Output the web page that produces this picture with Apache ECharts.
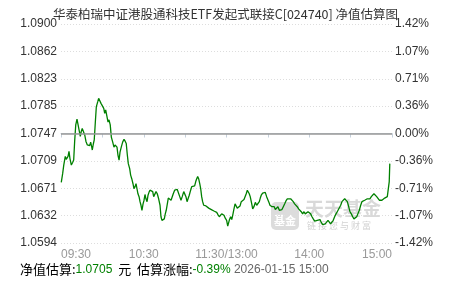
<!DOCTYPE html>
<html>
<head>
<meta charset="utf-8">
<script src="https://cdn.jsdelivr.net/npm/echarts@6/dist/echarts.min.js"></script>
<style>
html,body{margin:0;padding:0;background:#fff;}
#c{width:451px;height:281px;}
</style>
</head>
<body>
<div id="c"></div>
<script>
var titleText = '华泰柏瑞中证港股通科技ETF发起式联接C[024740] 净值估算图';
var baseNav = 1.0747;
var leftTicks = ['1.0594','1.0632','1.0671','1.0709','1.0747','1.0785','1.0823','1.0862','1.0900'];
var rightTicks = ['-1.42%','-1.07%','-0.71%','-0.36%','0.00%','0.36%','0.71%','1.07%','1.42%'];
var xTickLabels = ['09:30','','10:30','','11:30/13:00','','14:00','','15:00'];
var estNav = '1.0705';
var estPct = '-0.39%';
var estTime = '2026-01-15 15:00';

// minutes since 09:30 (trading minutes) and estimated NAV
var minutes = [0.2,1.2,2.0,3.1,3.8,5.1,5.8,6.5,7.5,8.5,9.2,9.9,10.7,11.6,12.5,13.3,14.0,14.7,15.4,16.5,17.2,18.1,19.1,19.8,20.8,21.5,22.3,22.7,23.4,24.1,24.9,25.6,26.6,27.3,28.3,29.0,29.9,31.0,31.7,32.4,33.4,34.1,34.8,35.7,36.5,37.5,38.4,39.2,40.1,40.6,41.3,42.1,42.8,43.7,44.7,45.7,46.6,47.3,48.1,48.8,49.8,50.5,51.3,52.2,52.9,53.7,54.4,55.1,55.8,56.6,57.3,58.0,58.7,59.5,60.2,60.9,61.6,62.4,63.1,63.8,64.5,65.5,66.5,67.2,67.9,68.9,69.8,70.8,71.8,72.5,73.2,74.2,74.9,75.6,76.3,77.1,77.8,78.8,79.8,80.3,81.4,82.4,83.4,84.3,85.3,86.1,87.0,87.9,89.0,89.9,90.6,91.4,92.3,93.0,94.0,94.8,95.9,96.9,97.7,98.4,99.1,99.8,100.6,101.3,102.0,102.7,103.5,104.2,105.1,106.1,107.1,108.0,109.0,110.0,110.9,111.9,112.9,113.8,114.8,115.5,116.5,117.2,118.2,119.1,120.1,120.9,121.3,122.0,123.0,123.8,124.5,125.2,126.2,126.9,127.8,128.8,129.8,130.7,131.7,132.7,133.6,134.3,135.1,135.8,136.5,137.2,138.3,139.0,139.9,140.9,141.9,142.8,143.8,144.5,145.2,146.2,147.2,148.1,149.1,150.1,150.8,151.5,152.3,153.0,153.7,154.6,155.4,156.4,157.3,158.3,159.3,160.2,161.2,162.2,163.1,164.1,165.5,166.5,167.5,168.4,169.4,170.4,171.3,172.3,173.3,174.2,175.2,176.2,177.1,178.1,179.1,180.0,181.0,182.0,182.9,183.9,184.9,185.8,186.8,187.8,188.7,189.7,190.7,191.6,192.6,193.6,194.5,195.5,196.5,197.4,198.4,199.4,200.3,201.3,202.8,203.7,204.7,205.7,206.6,207.6,208.6,209.5,210.5,211.5,212.4,213.4,214.4,215.3,216.3,217.3,218.2,219.2,220.2,221.1,222.1,223.1,224.0,225.0,226.0,226.9,227.9,228.9,229.8,230.8,231.8,232.7,233.7,234.7,235.6,236.6,237.6,238.0,238.4];
var navs = [1.0679,1.0691,1.0703,1.0715,1.0711,1.0715,1.0722,1.0712,1.0703,1.0707,1.0710,1.0736,1.0759,1.0767,1.0766,1.0750,1.0743,1.0750,1.0754,1.0752,1.0745,1.0736,1.0731,1.0733,1.0730,1.0735,1.0728,1.0724,1.0732,1.0738,1.0763,1.0784,1.0791,1.0796,1.0797,1.0789,1.0787,1.0782,1.0775,1.0780,1.0781,1.0763,1.0766,1.0759,1.0742,1.0735,1.0728,1.0731,1.0733,1.0728,1.0717,1.0710,1.0721,1.0728,1.0735,1.0739,1.0736,1.0733,1.0717,1.0705,1.0698,1.0689,1.0684,1.0677,1.0670,1.0673,1.0677,1.0670,1.0663,1.0659,1.0652,1.0647,1.0640,1.0649,1.0654,1.0662,1.0656,1.0652,1.0661,1.0665,1.0668,1.0668,1.0666,1.0659,1.0661,1.0666,1.0663,1.0656,1.0647,1.0631,1.0626,1.0625,1.0628,1.0635,1.0640,1.0649,1.0657,1.0655,1.0654,1.0656,1.0663,1.0668,1.0670,1.0669,1.0668,1.0659,1.0654,1.0659,1.0666,1.0666,1.0659,1.0652,1.0657,1.0661,1.0668,1.0673,1.0673,1.0674,1.0680,1.0684,1.0687,1.0684,1.0677,1.0670,1.0659,1.0652,1.0647,1.0645,1.0646,1.0645,1.0643,1.0644,1.0641,1.0642,1.0639,1.0638,1.0637,1.0634,1.0631,1.0633,1.0635,1.0634,1.0633,1.0629,1.0626,1.0618,1.0619,1.0626,1.0631,1.0627,1.0633,1.0640,1.0649,1.0647,1.0643,1.0645,1.0646,1.0652,1.0654,1.0655,1.0657,1.0663,1.0668,1.0666,1.0663,1.0659,1.0649,1.0642,1.0645,1.0651,1.0647,1.0649,1.0652,1.0657,1.0661,1.0664,1.0663,1.0665,1.0659,1.0657,1.0651,1.0647,1.0648,1.0645,1.0647,1.0645,1.0641,1.0640,1.0645,1.0640,1.0639,1.0641,1.0645,1.0649,1.0653,1.0656,1.0656,1.0656,1.0654,1.0652,1.0649,1.0647,1.0645,1.0642,1.0640,1.0638,1.0635,1.0638,1.0635,1.0633,1.0638,1.0640,1.0635,1.0631,1.0628,1.0625,1.0624,1.0626,1.0624,1.0627,1.0623,1.0620,1.0619,1.0621,1.0623,1.0626,1.0625,1.0621,1.0620,1.0626,1.0631,1.0635,1.0638,1.0640,1.0647,1.0652,1.0654,1.0656,1.0657,1.0652,1.0645,1.0638,1.0635,1.0631,1.0628,1.0626,1.0631,1.0633,1.0640,1.0647,1.0652,1.0652,1.0654,1.0654,1.0656,1.0655,1.0656,1.0659,1.0661,1.0663,1.0662,1.0659,1.0657,1.0654,1.0652,1.0654,1.0655,1.0657,1.0659,1.0659,1.0661,1.0680,1.0705];

var RED = '#ff0000', GREEN = '#008000', DARK = '#333333';
var PCT_MAX = 1.42, PCT_STEP = 0.355;
function tickIndex(v){ return Math.round((v + PCT_MAX) / PCT_STEP); }
function tickColor(v){ var i = tickIndex(v); return i > 4 ? RED : (i < 4 ? GREEN : DARK); }

var seriesData = minutes.map(function(m, i){ return [m, (navs[i] / baseNav - 1) * 100]; });

var FONT = '"Liberation Sans", Arial, "Noto Sans CJK SC", sans-serif';
var CJK = '"Noto Sans CJK SC", sans-serif';

var chart = echarts.init(document.getElementById('c'), null, {renderer: 'canvas'});
chart.setOption({
  animation: false,
  backgroundColor: '#ffffff',
  title: {
    text: titleText, left: 'center', top: 3,
    textStyle: {fontSize: 12.5, fontWeight: 'normal', color: '#333', fontFamily: CJK}
  },
  grid: {left: 61, right: 59, top: 24, bottom: 38, containLabel: false},
  xAxis: {
    type: 'value', min: 0, max: 240, interval: 30,
    axisLine: {show: true, lineStyle: {color: '#c6d1dc', width: 1}},
    axisTick: {show: true, length: 4, lineStyle: {color: '#c6d1dc'}},
    splitLine: {show: false},
    axisLabel: {
      color: '#999', fontSize: 12, margin: 6, fontFamily: FONT,
      alignMinLabel: 'left', alignMaxLabel: 'right',
      formatter: function(v){ return xTickLabels[Math.round(v / 30)] || ''; }
    }
  },
  yAxis: [{
    type: 'value', min: -PCT_MAX, max: PCT_MAX, interval: PCT_STEP, position: 'left',
    axisLine: {show: false}, axisTick: {show: false},
    splitLine: {show: true, lineStyle: {color: '#dddddd', type: [1, 2], width: 1}},
    axisLabel: {
      fontSize: 12, margin: 4, fontFamily: FONT,
      color: function(v){ return tickColor(v); },
      formatter: function(v){ return leftTicks[tickIndex(v)]; }
    }
  }, {
    type: 'value', min: -PCT_MAX, max: PCT_MAX, interval: PCT_STEP, position: 'right',
    axisLine: {show: false}, axisTick: {show: false}, splitLine: {show: false},
    axisLabel: {
      fontSize: 12, margin: 3, fontFamily: FONT,
      color: function(v){ return tickColor(v); },
      formatter: function(v){ return rightTicks[tickIndex(v)]; }
    }
  }],
  graphic: [
    {type: 'rect', left: 271, top: 202, z: 0, shape: {width: 28, height: 28, r: 5}, style: {fill: '#dcdcdc'}},
    {type: 'text', left: 274, top: 215, z: 0, style: {text: '基金', fill: '#ffffff', font: 'bold 11px "Noto Sans CJK SC"'}},
    {type: 'text', left: 305, top: 199, z: 0, style: {text: '天天基金', fill: '#d9d9d9', font: 'bold 19px "Noto Sans CJK SC"'}},
    {type: 'text', left: 307, top: 221, z: 0, style: {text: '链 接 您 与 财 富', fill: '#d2d2d2', font: '9px "Noto Sans CJK SC"'}},
    {
      type: 'text', left: 20, top: 263, z: 10,
      style: {
        text: '{a|净值估算:}{g|' + estNav + '}{a|  元  估算涨幅:}{g|' + estPct + '}{d| ' + estTime + '}',
        rich: {
          a: {fontSize: 13, fill: '#000', fontFamily: CJK},
          g: {fontSize: 12, fill: GREEN, fontFamily: FONT},
          d: {fontSize: 12, fill: '#666', fontFamily: FONT}
        }
      }
    }
  ],
  series: [{
    type: 'line', xAxisIndex: 0, yAxisIndex: 0, data: seriesData,
    showSymbol: false, symbol: 'none', smooth: false,
    lineStyle: {color: GREEN, width: 1.3},
    z: 3,
    markLine: {
      silent: true, symbol: 'none', label: {show: false},
      lineStyle: {color: '#999999', width: 1.5, type: 'solid'},
      data: [{yAxis: 0}]
    }
  }]
});
</script>
</body>
</html>
